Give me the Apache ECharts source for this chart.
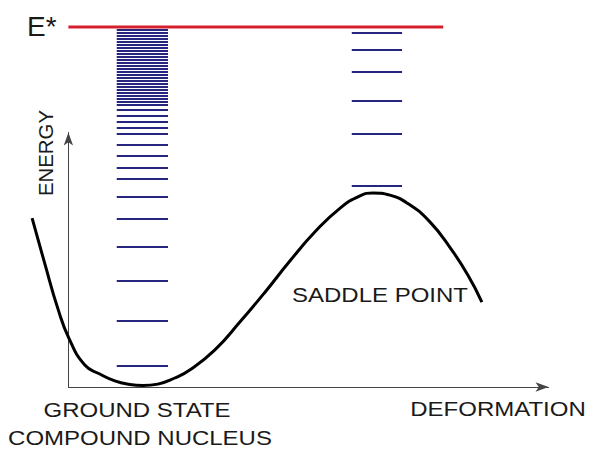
<!DOCTYPE html>
<html><head><meta charset="utf-8">
<script src="https://cdn.jsdelivr.net/npm/echarts@6/dist/echarts.min.js"></script>
<style>html,body{margin:0;padding:0;background:#fff}#c{width:591px;height:449px}</style>
</head><body><div id="c"></div>
<script>
// Potential energy curve (deformation units, energy units with E* = 100)
var curveDeformation = [-7.5,-4.8,-2.2,0.1,3.4,6.5,9.6,12.7,15.4,18.5,22.0,25.1,30.3,35.5,40.7,45.8,51.0,56.2,60.3,63.0,66.5,70.6,74.8,79.0,82.6,85.5];
var curveEnergy      = [46.9,33.9,21.9,13.6,6.1,3.6,1.7,0.7,0.4,0.8,2.5,4.7,10.3,18.1,26.4,35.0,43.1,49.7,53.1,53.9,53.3,50.6,45.8,38.6,31.1,23.6];
// Levels in the ground-state well (compound nucleus)
var wellLevels = [99.2,98.3,97.5,96.7,95.8,95.0,94.2,93.3,92.5,91.7,90.8,90.0,89.2,88.3,87.5,86.7,85.8,85.0,84.2,83.3,82.5,81.7,80.8,80.0,79.2,78.3,76.9,75.3,73.6,71.9,70.3,67.2,64.2,60.8,57.8,52.8,46.7,38.9,29.4,18.3,5.8];
var wellRange = [10.0, 20.6];
// Levels at the saddle point
var saddleLevels = [98.3,93.6,87.5,79.4,70.3,55.8];
var saddleRange = [58.6, 69.0];
// Excitation energy line
var eStar = 100;
var eStarRange = [0, 77.5];
var labels = {e:'E*', energy:'ENERGY', saddle:'SADDLE POINT', ground:'GROUND STATE', compound:'COMPOUND NUCLEUS', deform:'DEFORMATION'};

var chart = echarts.init(document.getElementById('c'), null, {renderer:'svg'});
function levelItems(levels, range){ return levels.map(function(e){ return [range[0], range[1], e]; }); }
function renderLevel(params, api){
  var p0 = api.coord([api.value(0), api.value(2)]);
  var p1 = api.coord([api.value(1), api.value(2)]);
  return {type:'line', shape:{x1:p0[0], y1:Math.round(p0[1]), x2:p1[0], y2:Math.round(p1[1])},
          style:api.style({stroke:'#262680', lineWidth:2})};
}
var curveData = curveDeformation.map(function(x,i){ return [x, curveEnergy[i]]; });
var textColor = '#1a1a1a';
var font = '20px "Liberation Sans", Arial, sans-serif';
chart.setOption({
  animation:false,
  grid:[
    {left:68.4, right:42.5, top:132.5, bottom:62},
    {left:20, right:39, top:27, bottom:62}
  ],
  xAxis:[
    {gridIndex:0, type:'value', min:0, max:100, splitLine:{show:false}, axisTick:{show:false}, axisLabel:{show:false},
     axisLine:{show:true, lineStyle:{color:'#444', width:1}, symbol:['none','arrow'], symbolSize:[7,13]}},
    {gridIndex:1, type:'value', min:-10, max:100, show:false}
  ],
  yAxis:[
    {gridIndex:0, type:'value', min:0, max:100, splitLine:{show:false}, axisTick:{show:false}, axisLabel:{show:false},
     axisLine:{show:true, lineStyle:{color:'#444', width:1}, symbol:['none','arrow'], symbolSize:[7,13]}},
    {gridIndex:1, type:'value', min:0, max:100, show:false}
  ],
  series:[
    {type:'custom', xAxisIndex:1, yAxisIndex:1, renderItem:renderLevel, data:levelItems(wellLevels, wellRange), clip:false, z:2},
    {type:'custom', xAxisIndex:1, yAxisIndex:1, renderItem:renderLevel, data:levelItems(saddleLevels, saddleRange), clip:false, z:2},
    {type:'line', xAxisIndex:1, yAxisIndex:1, data:[[eStarRange[0], eStar],[eStarRange[1], eStar]], symbol:'none',
     lineStyle:{color:'#d4202c', width:3}, clip:false, z:3},
    {type:'line', xAxisIndex:1, yAxisIndex:1, data:curveData, smooth:0.5, symbol:'none',
     lineStyle:{color:'#000', width:3}, clip:false, z:4}
  ],
  graphic:[
    {type:'text', x:27, y:26, style:{text:labels.e, font:'28px "Liberation Sans", Arial, sans-serif', fill:textColor, textAlign:'left', textVerticalAlign:'middle'}},
    {type:'text', x:45, y:153, rotation:Math.PI/2, scaleX:0.97, style:{text:labels.energy, font:'21px "Liberation Sans", Arial, sans-serif', fill:textColor, textAlign:'center', textVerticalAlign:'middle'}},
    {type:'text', x:380, y:295, scaleX:1.2, style:{text:labels.saddle, font:font, fill:textColor, textAlign:'center', textVerticalAlign:'middle'}},
    {type:'text', x:137, y:410, scaleX:1.2, style:{text:labels.ground, font:font, fill:textColor, textAlign:'center', textVerticalAlign:'middle'}},
    {type:'text', x:140, y:438, scaleX:1.2, style:{text:labels.compound, font:font, fill:textColor, textAlign:'center', textVerticalAlign:'middle'}},
    {type:'text', x:498, y:409, scaleX:1.2, style:{text:labels.deform, font:font, fill:textColor, textAlign:'center', textVerticalAlign:'middle'}}
  ]
});
</script></body></html>
